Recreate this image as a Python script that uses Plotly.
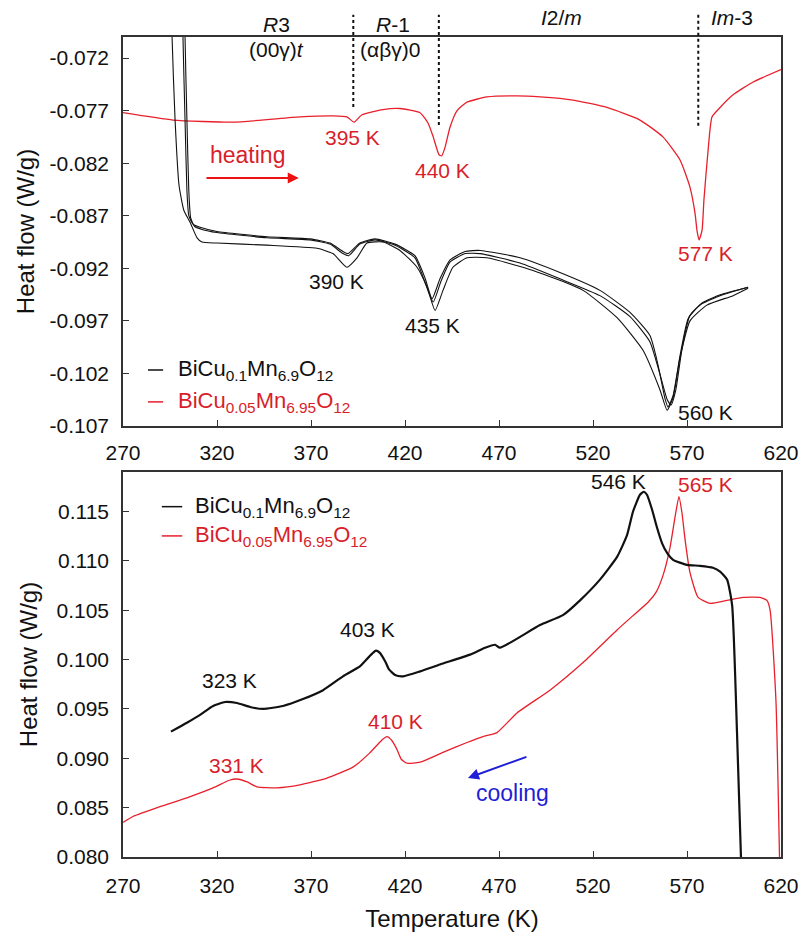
import plotly.graph_objects as go

# ---------------- data ----------------
T_ticks = [270, 320, 370, 420, 470, 520, 570, 620]
heat_ticks = [-0.107, -0.102, -0.097, -0.092, -0.087, -0.082, -0.077, -0.072]
cool_ticks = [0.080, 0.085, 0.090, 0.095, 0.100, 0.105, 0.110, 0.115]

# heating, BiCu0.05Mn6.95O12 (red)
heat_red_T = [270, 296.6, 328.5, 364.1, 381.7, 389.1, 392.9, 397.1, 408.3, 417.3, 428, 432.3, 435, 438.1,
              439.5, 441.3, 443.9, 447.7, 453, 463.6, 479.6, 491.8, 509.4, 527.4, 545, 557.2, 566.3, 571.6,
              574.3, 575.3, 576.4, 578, 579, 581.2, 583.3, 587.6, 594.5, 605, 620]
heat_red_hf = [-0.0772, -0.0779, -0.0781, -0.0776, -0.0775, -0.0776, -0.0781, -0.0774, -0.0769, -0.0768,
               -0.0772, -0.0782, -0.0795, -0.0812, -0.0813, -0.0805, -0.0786, -0.0770, -0.0762, -0.0757,
               -0.0756, -0.0757, -0.0760, -0.0767, -0.0779, -0.0795, -0.0817, -0.0843, -0.0868, -0.0884,
               -0.0893, -0.0884, -0.0855, -0.0808, -0.0776, -0.0767, -0.0755, -0.0743, -0.0731]

# heating, BiCu0.1Mn6.9O12 (black), three cycles
heat_blk1_T = [295.5, 296.1, 297.7, 299.8, 302.4, 305.6, 309.4, 312, 320, 346.6, 373.2, 381.7, 389.1, 394.5,
               399.8, 408.3, 417.3, 426.4, 431.7, 436, 440.2, 445.5, 453, 463.6, 488.1, 514.7, 532.8, 546.6,
               555.7, 559.4, 562.6, 566.3, 571.6, 580.6, 594.5, 602.5]
heat_blk1_hf = [-0.0600, -0.0700, -0.0779, -0.0841, -0.0865, -0.0876, -0.0891, -0.0895, -0.0896, -0.0898,
                -0.0901, -0.0906, -0.0919, -0.0910, -0.0896, -0.0895, -0.0903, -0.0919, -0.0938, -0.0960,
                -0.0941, -0.0919, -0.0910, -0.0910, -0.0922, -0.0941, -0.0967, -0.0998, -0.1036, -0.1055,
                -0.1043, -0.1005, -0.0970, -0.0955, -0.0946, -0.0939]
heat_blk2_T = [301.4, 301.9, 303, 304, 305, 307.2, 311, 320, 346.6, 369.5, 380.1, 387, 389.7, 396, 404,
               414.7, 425.3, 430.6, 434.4, 438.6, 444, 452, 460, 481.2, 502.4, 523.7, 539.7, 550.3, 554.6,
               558.3, 559.9, 562.6, 566.3, 570.6, 576.9, 587.6, 602.5]
heat_blk2_hf = [-0.0600, -0.0700, -0.0779, -0.0846, -0.0870, -0.0878, -0.0881, -0.0885, -0.0890, -0.0892,
                -0.0896, -0.0904, -0.0906, -0.0896, -0.0892, -0.0897, -0.0908, -0.0929, -0.0949, -0.0930,
                -0.0912, -0.0904, -0.0903, -0.0910, -0.0924, -0.0941, -0.0962, -0.0984, -0.1012, -0.1044,
                -0.1052, -0.1041, -0.1003, -0.0968, -0.0955, -0.0946, -0.0938]
heat_blk3_T = [302.5, 303, 304, 305, 306, 308, 312, 320, 346.6, 369.5, 380.1, 387, 390, 396, 404, 414.7,
               425.3, 430.6, 435, 439, 444, 452, 460, 481.2, 502.4, 523.7, 539.7, 550.3, 555.5, 559.5, 561.5,
               564, 567.5, 571.5, 578, 588, 602.5]
heat_blk3_hf = [-0.0600, -0.0700, -0.0779, -0.0846, -0.0872, -0.0880, -0.0883, -0.0886, -0.0891, -0.0893,
                -0.0897, -0.0906, -0.0908, -0.0897, -0.0893, -0.0898, -0.0910, -0.0933, -0.0952, -0.0933,
                -0.0914, -0.0906, -0.0906, -0.0915, -0.0930, -0.0946, -0.0966, -0.0990, -0.1020, -0.1045,
                -0.1050, -0.1036, -0.0995, -0.0965, -0.0953, -0.0945, -0.0938]

# cooling, BiCu0.05Mn6.95O12 (red)
cool_red_T = [619.5, 617.3, 614.2, 612.5, 608.8, 599.8, 591.3, 582.2, 575.9, 571.6, 569, 567.3, 565.7, 563.6,
              561, 557.2, 553.5, 549.3, 541, 532.8, 514.7, 497.1, 479.6, 468.9, 461.5, 453, 440.2, 428,
              421, 418, 415.7, 413, 410.4, 408, 405, 401, 392.3, 378.5, 364.1, 351.9, 341.3, 336, 330.6,
              326.9, 317.9, 304, 289.7, 275.3, 270]
cool_red_hf = [0.0770, 0.0959, 0.1050, 0.1060, 0.1063, 0.1063, 0.1060, 0.1057, 0.1063, 0.1088, 0.1121, 0.1149,
               0.1165, 0.1144, 0.1114, 0.1085, 0.1068, 0.1058, 0.1044, 0.1030, 0.0997, 0.0969, 0.0946,
               0.0926, 0.0922, 0.0916, 0.0906, 0.0896, 0.0895, 0.0899, 0.0909, 0.0918, 0.0922, 0.0919, 0.0913,
               0.0905, 0.0891, 0.0880, 0.0873, 0.0870, 0.0871, 0.0876, 0.0879, 0.0878, 0.0870, 0.0860, 0.0851,
               0.0841, 0.0835]

# cooling, BiCu0.1Mn6.9O12 (black)
cool_blk_T = [599.2, 596.6, 594, 591.3, 587.6, 583.8, 576.9, 570, 562.6, 559.4, 556.7, 554, 551.4, 548.7,
              547.1, 545, 541.3, 538.1, 532.8, 523.7, 513.1, 504, 491.8, 470.5, 467.9, 462.6, 454.6, 438.6,
              428, 419, 415, 411.5, 409.5, 406.5, 404.5, 402.5, 398.5, 396, 387, 376.4, 365.7, 355.1, 344.5,
              337.6, 330.6, 324.3, 317.9, 311, 304, 295.5]
cool_blk_hf = [0.0770, 0.0926, 0.1055, 0.1081, 0.1089, 0.1093, 0.1095, 0.1096, 0.1101, 0.1108, 0.1118, 0.1134,
               0.1152, 0.1167, 0.1170, 0.1167, 0.1150, 0.1126, 0.1104, 0.1081, 0.1060, 0.1045, 0.1035, 0.1012,
               0.1015, 0.1012, 0.1005, 0.0995, 0.0988, 0.0983, 0.0984, 0.0990, 0.0998, 0.1007, 0.1009, 0.1006,
               0.0998, 0.0993, 0.0983, 0.0969, 0.0960, 0.0953, 0.0950, 0.0952, 0.0956, 0.0957, 0.0953, 0.0944,
               0.0936, 0.0927]

# phase boundaries (K) and labels
phase_bounds = [392.5, 438, 576]
heat_peaks_red = [(392.3, -0.0796, "395 K"), (439.7, -0.0827, "440 K"), (579.6, -0.0906, "577 K")]
heat_peaks_blk = [(383.8, -0.0933, "390 K"), (434.4, -0.0974, "435 K"), (579.6, -0.1057, "560 K")]
cool_peaks_red = [(579.6, 0.1177, "565 K"), (414.7, 0.0937, "410 K"), (330.6, 0.0893, "331 K")]
cool_peaks_blk = [(533.3, 0.1180, "546 K"), (400.3, 0.1030, "403 K"), (326.9, 0.0979, "323 K")]

# ---------------- figure ----------------
FONT = "Liberation Sans, Arial, sans-serif"
RED_LINE = "#e8202c"
RED_TXT = "#d91e2b"
BLUE = "#1f1fd6"
BLACK = "#111111"
TICK_SIZE = 21
ANN_SIZE = 21
TITLE_SIZE = 24

fig = go.Figure()
sp = dict(shape="spline", smoothing=0.5)

fig.add_trace(go.Scatter(x=heat_red_T, y=heat_red_hf, mode="lines",
                         line=dict(color=RED_LINE, width=1.3, **sp), xaxis="x", yaxis="y", showlegend=False))
for tx, hy in [(heat_blk1_T, heat_blk1_hf), (heat_blk2_T, heat_blk2_hf), (heat_blk3_T, heat_blk3_hf)]:
    fig.add_trace(go.Scatter(x=tx, y=hy, mode="lines",
                             line=dict(color=BLACK, width=1.1, **sp), xaxis="x", yaxis="y", showlegend=False))

fig.add_trace(go.Scatter(x=cool_red_T, y=cool_red_hf, mode="lines",
                         line=dict(color=RED_LINE, width=1.3, **sp), xaxis="x2", yaxis="y2", showlegend=False))
fig.add_trace(go.Scatter(x=cool_blk_T, y=cool_blk_hf, mode="lines",
                         line=dict(color=BLACK, width=2.2, **sp), xaxis="x2", yaxis="y2", showlegend=False))

axis_common = dict(showline=True, mirror=True, linecolor="#333333", linewidth=1.5, ticks="inside",
                   ticklen=6, tickcolor="#333333", tickwidth=1.2, showgrid=False, zeroline=False,
                   automargin=False,
                   tickfont=dict(family=FONT, size=TICK_SIZE, color="#111111"))

top_dom = [0.5256, 1.0]
bot_dom = [0.0, 0.4695]

fig.update_layout(
    width=801, height=938,
    margin=dict(l=123, r=20, t=37, b=81),
    paper_bgcolor="white", plot_bgcolor="white",
    font=dict(family=FONT, size=20, color="#111111"),
    xaxis=dict(domain=[0, 1], anchor="y", range=[T_ticks[0], T_ticks[-1]], tickvals=T_ticks,
               ticklabelstandoff=7, **axis_common),
    yaxis=dict(domain=top_dom, anchor="x", range=[heat_ticks[0], -0.070], tickvals=heat_ticks,
               ticktext=[f"{v:.3f}" for v in heat_ticks], ticklabelstandoff=8,
               title=dict(text="Heat flow (W/g)", font=dict(family=FONT, size=TITLE_SIZE), standoff=8),
               **axis_common),
    xaxis2=dict(domain=[0, 1], anchor="y2", range=[T_ticks[0], T_ticks[-1]], tickvals=T_ticks,
                ticklabelstandoff=9,
                title=dict(text="Temperature (K)", font=dict(family=FONT, size=TITLE_SIZE), standoff=14),
                **axis_common),
    yaxis2=dict(domain=bot_dom, anchor="x2", range=[cool_ticks[0], 0.119], tickvals=cool_ticks,
                ticktext=[f"{v:.3f}" for v in cool_ticks], ticklabelstandoff=8,
                title=dict(text="Heat flow (W/g)", font=dict(family=FONT, size=TITLE_SIZE), standoff=12),
                **axis_common),
)

# dotted phase boundaries (top panel)
x0, x1 = T_ticks[0], T_ticks[-1]
bottoms = [0.820, 0.774, 0.772]
for tb, yb in zip(phase_bounds, bottoms):
    xd = (tb - x0) / (x1 - x0)
    fig.add_shape(type="line", xref="x domain", yref="y domain", x0=xd, x1=xd, y0=yb, y1=1.057,
                  line=dict(color=BLACK, width=2, dash="dot"))

# phase labels
phase_labels = [(351.9, 1.031, "<i>R</i>3"), (351.9, 0.967, "(00γ)<i>t</i>"),
                (413.5, 1.031, "<i>R</i>-1"), (412.0, 0.967, "(αβγ)0"),
                (503.5, 1.049, "<i>I</i>2/<i>m</i>"), (594.0, 1.049, "<i>Im</i>-3")]
for tx, yd, txt in phase_labels:
    fig.add_annotation(x=(tx - x0) / (x1 - x0), y=yd, xref="x domain", yref="y domain", text=txt,
                       showarrow=False, xanchor="center", yanchor="middle",
                       font=dict(family=FONT, size=ANN_SIZE, color=BLACK))

# peak labels
for peaks, xr, yr, col in [(heat_peaks_red, "x", "y", RED_TXT), (heat_peaks_blk, "x", "y", BLACK),
                           (cool_peaks_red, "x2", "y2", RED_TXT), (cool_peaks_blk, "x2", "y2", BLACK)]:
    for tx, hy, txt in peaks:
        fig.add_annotation(x=tx, y=hy, xref=xr, yref=yr, text=txt, showarrow=False,
                           xanchor="center", yanchor="middle",
                           font=dict(family=FONT, size=ANN_SIZE, color=col))

# heating / cooling labels and arrows
fig.add_annotation(x=336, y=-0.0812, xref="x", yref="y", text="heating", showarrow=False,
                   xanchor="center", yanchor="middle", font=dict(family=FONT, size=23, color=RED_TXT))
fig.add_annotation(x=363.5, y=-0.0834, ax=313.6, ay=-0.0834, xref="x", yref="y", axref="x", ayref="y",
                   text="", showarrow=True, arrowhead=2, arrowsize=1.1, arrowwidth=2, arrowcolor="#ee1111")
fig.add_annotation(x=477, y=0.0865, xref="x2", yref="y2", text="cooling", showarrow=False,
                   xanchor="center", yanchor="middle", font=dict(family=FONT, size=23, color=BLUE))
fig.add_annotation(x=453.5, y=0.0880, ax=485.4, ay=0.0902, xref="x2", yref="y2", axref="x2", ayref="y2",
                   text="", showarrow=True, arrowhead=2, arrowsize=1.1, arrowwidth=2, arrowcolor=BLUE)

# legends
legend_items = ["BiCu<sub>0.1</sub>Mn<sub>6.9</sub>O<sub>12</sub>",
                "BiCu<sub>0.05</sub>Mn<sub>6.95</sub>O<sub>12</sub>"]
legend_colors = [(BLACK, BLACK), (RED_LINE, RED_TXT)]
for (ax_ref, lx0, lx1, tx, ys) in [("", 0.038, 0.061, 0.080, [0.144, 0.062]),
                                   ("2", 0.059, 0.090, 0.107, [0.910, 0.834])]:
    for txt, (lc, tc), yy in zip(legend_items, legend_colors, ys):
        fig.add_shape(type="line", xref=f"x{ax_ref} domain", yref=f"y{ax_ref} domain",
                      x0=lx0, x1=lx1, y0=yy, y1=yy, line=dict(color=lc, width=1.5))
        fig.add_annotation(x=tx, y=yy, xref=f"x{ax_ref} domain", yref=f"y{ax_ref} domain", text=txt,
                           showarrow=False, xanchor="left", yanchor="middle",
                           font=dict(family=FONT, size=22, color=tc))

fig.write_html("out.html")
